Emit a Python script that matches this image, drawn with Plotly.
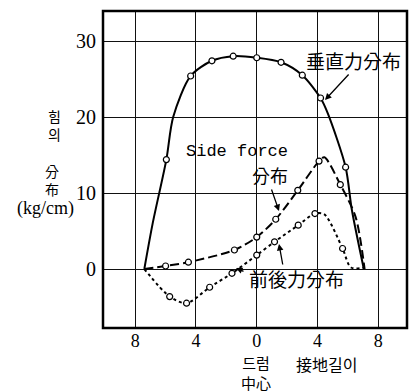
import plotly.graph_objects as go

# ---- data (x: distance from drum centre, cm; y: kg/cm) ----
tick_vals_x = [-8, -4, 0, 4, 8]
tick_text_x = ["8", "4", "0", "4", "8"]
tick_vals_y = [0, 10, 20, 30]

# vertical force distribution (solid)
vert_x = [-5.95, -4.35, -2.95, -1.55, 0.0, 1.6, 3.0, 4.2, 5.85]
vert_y = [14.4, 25.4, 27.4, 28.0, 27.8, 27.2, 25.5, 22.5, 13.4]
vert_curve_x = [-7.4, -6.85, -5.95, -5.5, -4.35, -2.95, -1.55, 0.0, 1.6, 3.0, 4.2, 4.67, 5.85, 6.26, 7.05]
vert_curve_y = [0.0, 6.0, 14.4, 20.0, 25.4, 27.4, 28.0, 27.8, 27.2, 25.5, 22.5, 20.5, 13.4, 7.8, 0.0]

# side force distribution (dashed)
side_x = [-6.0, -4.5, -1.47, 0.0, 1.25, 2.7, 4.1, 5.5]
side_y = [0.4, 0.9, 2.5, 4.2, 6.55, 10.35, 14.2, 11.1]
side_curve_x = [-7.4, -6.0, -4.5, -1.47, 0.0, 1.25, 2.7, 4.1, 4.45, 5.5, 6.5, 7.1]
side_curve_y = [0.0, 0.4, 0.9, 2.5, 4.2, 6.55, 10.35, 14.2, 14.7, 11.1, 6.9, 0.0]

# fore-aft force distribution (dotted)
fa_x = [-5.73, -4.62, -3.1, -1.63, 0.0, 1.17, 2.73, 3.83, 5.65]
fa_y = [-3.63, -4.5, -2.4, -0.56, 1.83, 3.58, 5.77, 7.3, 2.7]
fa_curve_x = [-7.4, -5.73, -4.62, -3.1, -1.63, 0.0, 1.17, 2.73, 3.83, 4.45, 5.65, 6.2, 7.1]
fa_curve_y = [0.0, -3.63, -4.5, -2.4, -0.56, 1.83, 3.58, 5.77, 7.3, 7.2, 2.7, 0.2, 0.2]

W, H = 410, 391
L, R, T, B = 103, 3, 11, 63
X_RANGE = [-10.12, 9.89]
Y_RANGE = [-7.76, 33.95]
PW, PH = W - L - R, H - T - B

CJK = "Noto Sans CJK KR"
SERIF = "Liberation Serif"


def paper(px, py):
    return dict(x=(px - L) / PW, y=(H - B - py) / PH, xref="paper", yref="paper")


def label(text, px, py, size, family=CJK):
    return dict(text=text, font=dict(family=family, size=size, color="black"), showarrow=False,
                xanchor="center", yanchor="middle", **paper(px, py))


marker = dict(symbol="circle", size=6, color="white", line=dict(color="black", width=1.2))

fig = go.Figure()
fig.add_trace(go.Scatter(x=vert_curve_x, y=vert_curve_y, mode="lines",
                         line=dict(color="black", width=2, shape="spline", smoothing=0.8),
                         hoverinfo="skip"))
fig.add_trace(go.Scatter(x=side_curve_x, y=side_curve_y, mode="lines",
                         line=dict(color="black", width=2, dash="9px,4px", shape="spline", smoothing=0.8),
                         hoverinfo="skip"))
fig.add_trace(go.Scatter(x=fa_curve_x, y=fa_curve_y, mode="lines",
                         line=dict(color="black", width=2, dash="3px,3px", shape="spline", smoothing=0.8),
                         hoverinfo="skip"))
for xs, ys in [(vert_x, vert_y), (side_x, side_y), (fa_x, fa_y)]:
    fig.add_trace(go.Scatter(x=xs, y=ys, mode="markers", marker=marker))

ann = []
# labels
ann.append(label("垂直力分布", 353, 60, 19))
ann.append(label("Side force", 237, 151, 17, "Liberation Mono"))
ann.append(label("分布", 270, 175, 18))
ann.append(label("前後力分布", 296, 278, 19))

# arrows (head position in pixels, tail offset in pixels)
arrow_style = dict(showarrow=True, arrowhead=2, arrowsize=1, arrowwidth=1.3, arrowcolor="black", text="")
ann.append(dict(ax=25, ay=-27, **paper(325, 100), **arrow_style))
ann.append(dict(ax=-8, ay=-23, **paper(279, 211), **arrow_style))
ann.append(dict(ax=4, ay=22, **paper(279, 244), **arrow_style))
ann.append(dict(ax=9, ay=4, **paper(236, 268), **arrow_style))

# y axis title pieces
ann.append(label("힘<br>의", 54, 125, 14))
ann.append(label("分<br>布", 52, 180, 14))
ann.append(label("(kg/cm)", 45, 208, 18, SERIF))

# x axis title pieces
ann.append(label("드럼<br>中心", 256, 372, 15))
ann.append(label("接地길이", 326, 364, 16))

fig.update_layout(
    width=W, height=H,
    margin=dict(l=L, r=R, t=T, b=B),
    paper_bgcolor="white", plot_bgcolor="white",
    showlegend=False,
    annotations=ann,
    shapes=[dict(type="rect", xref="paper", yref="paper", x0=0, x1=1, y0=0, y1=1,
                 line=dict(color="black", width=2.5), layer="above")],
)
fig.update_xaxes(range=X_RANGE, tickvals=tick_vals_x, ticktext=tick_text_x,
                 showgrid=True, gridcolor="#111", gridwidth=1.3, zeroline=False,
                 showline=False, ticks="", ticklabelstandoff=0,
                 tickfont=dict(family=SERIF, size=18, color="black"))
fig.update_yaxes(range=Y_RANGE, tickvals=tick_vals_y,
                 showgrid=True, gridcolor="#111", gridwidth=1.3, zeroline=False,
                 showline=False, ticks="", ticklabelstandoff=6,
                 tickfont=dict(family=SERIF, size=20, color="black"))

fig.write_html("out.html", config={"displayModeBar": False},
               post_script="document.body.style.margin='0';")
